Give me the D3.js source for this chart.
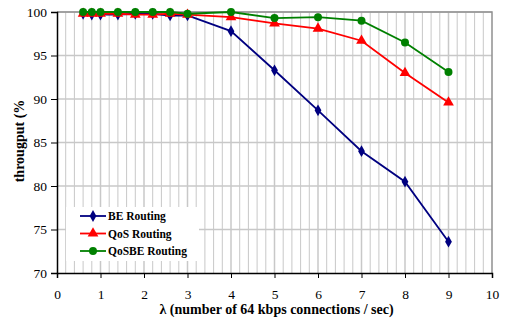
<!DOCTYPE html>
<html>
<head>
<meta charset="utf-8">
<script src="https://cdn.jsdelivr.net/npm/d3@7"></script>
<style>
  body { margin: 0; background: #fff; }
  svg text { font-family: "Liberation Serif", "Times New Roman", serif; }
</style>
</head>
<body>
<svg width="506" height="322" font-family="Liberation Serif, serif"></svg>
<script>
// data
const lambda = [0.6, 0.8, 1.0, 1.4, 1.8, 2.2, 2.6, 3, 4, 5, 6, 7, 8, 9];
const beRouting = [99.8, 99.7, 99.7, 99.7, 99.8, 99.8, 99.6, 99.6, 97.8, 93.3, 88.7, 84.0, 80.5, 73.6];
const qosRouting = [99.8, 99.8, 99.8, 99.8, 99.7, 99.7, 99.8, 99.7, 99.4, 98.7, 98.1, 96.7, 93.0, 89.6];
const qosbeRouting = [100, 100, 100, 100, 100, 100, 100, 99.8, 100, 99.3, 99.4, 99.0, 96.5, 93.1];
const xTicks = d3.range(0, 11);
const yTicks = [70, 75, 80, 85, 90, 95, 100];
const serif = '"Liberation Serif", "Times New Roman", serif';

const series = [
  { name: 'BE Routing', values: beRouting, color: '#000080', symbol: d3.symbolDiamond, size: 40 },
  { name: 'QoS Routing', values: qosRouting, color: '#ff0000', symbol: d3.symbolTriangle, size: 50 },
  { name: 'QoSBE Routing', values: qosbeRouting, color: '#008000', symbol: d3.symbolCircle, size: 50 }
];

const margin = { top: 12, right: 14, bottom: 49, left: 57 };
const svg = d3.select('svg');
const width = +svg.attr('width') - margin.left - margin.right;
const height = +svg.attr('height') - margin.top - margin.bottom;
const g = svg.append('g').attr('transform', `translate(${margin.left},${margin.top})`);

const x = d3.scaleLinear().domain([0, 10]).range([0, width]);
const y = d3.scaleLinear().domain([70, 100]).range([height, 0]);

// minor vertical grid every 0.2
g.append('g')
  .selectAll('line')
  .data(d3.range(1, 50).map(i => i / 5))
  .enter()
  .append('line')
  .attr('x1', d => x(d)).attr('x2', d => x(d))
  .attr('y1', 0).attr('y2', height)
  .attr('stroke', '#c8c8c8')
  .attr('stroke-width', d => Math.abs(d - Math.round(d)) < 1e-6 ? 1.5 : 1);

// horizontal grid
g.append('g')
  .selectAll('line')
  .data(yTicks.slice(1))
  .enter()
  .append('line')
  .attr('x1', 0).attr('x2', width)
  .attr('y1', d => y(d)).attr('y2', d => y(d))
  .attr('stroke', '#c8c8c8')
  .attr('stroke-width', 1.5);

// grey frame on top and right
g.append('path')
  .attr('d', `M0,0H${width}V${height}`)
  .attr('fill', 'none')
  .attr('stroke', '#909090')
  .attr('stroke-width', 1.5);

// axes
const xAxis = g.append('g')
  .attr('transform', `translate(0,${height})`)
  .call(d3.axisBottom(x).tickValues(xTicks).tickSize(5).tickPadding(11).tickFormat(d3.format('d')));
const yAxis = g.append('g')
  .call(d3.axisLeft(y).tickValues(yTicks).tickSize(6).tickPadding(4));
[xAxis, yAxis].forEach(a => {
  a.attr('font-family', serif);
  a.select('.domain').attr('stroke', '#000').attr('stroke-width', 1.5);
  a.selectAll('.tick line').attr('stroke', '#000');
  a.selectAll('text')
    .style('font-family', serif)
    .attr('font-size', 13.5)
    .attr('fill', '#000');
});

// lines and markers
const line = d3.line().x(d => x(d[0])).y(d => y(d[1]));
series.forEach(s => {
  const pts = lambda.map((l, i) => [l, s.values[i]]);
  g.append('path')
    .datum(pts)
    .attr('d', line)
    .attr('fill', 'none')
    .attr('stroke', s.color)
    .attr('stroke-width', 1.8);
  g.append('g')
    .selectAll('path')
    .data(pts)
    .enter()
    .append('path')
    .attr('transform', d => `translate(${x(d[0])},${y(d[1])})`)
    .attr('d', d3.symbol().type(s.symbol).size(s.size))
    .attr('fill', s.color);
});

// legend
const legend = g.append('g').attr('transform', 'translate(9,195)');
legend.append('rect')
  .attr('width', 133).attr('height', 54)
  .attr('fill', '#fff');
const item = legend.selectAll('g.item')
  .data(series)
  .enter()
  .append('g')
  .attr('class', 'item')
  .attr('transform', (d, i) => `translate(0,${9 + i * 17.5})`);
item.append('line')
  .attr('x1', 14).attr('x2', 40)
  .attr('stroke', d => d.color).attr('stroke-width', 1.8);
item.append('path')
  .attr('transform', 'translate(27,0)')
  .attr('d', d => d3.symbol().type(d.symbol).size(d.size)())
  .attr('fill', d => d.color);
item.append('text')
  .attr('x', 42)
  .attr('dy', '0.35em')
  .style('font-family', serif)
  .attr('font-size', 11.5)
  .attr('font-weight', 'bold')
  .text(d => d.name);

// axis titles
svg.append('text')
  .attr('x', margin.left + width / 2 + 2)
  .attr('y', 314)
  .attr('text-anchor', 'middle')
  .style('font-family', serif)
  .attr('font-size', 14)
  .attr('font-weight', 'bold')
  .text('λ (number of 64 kbps connections / sec)');
svg.append('text')
  .attr('transform', 'translate(24,141) rotate(-90)')
  .attr('text-anchor', 'middle')
  .style('font-family', serif)
  .attr('font-size', 14)
  .attr('font-weight', 'bold')
  .text('througput (%');
</script>
</body>
</html>
